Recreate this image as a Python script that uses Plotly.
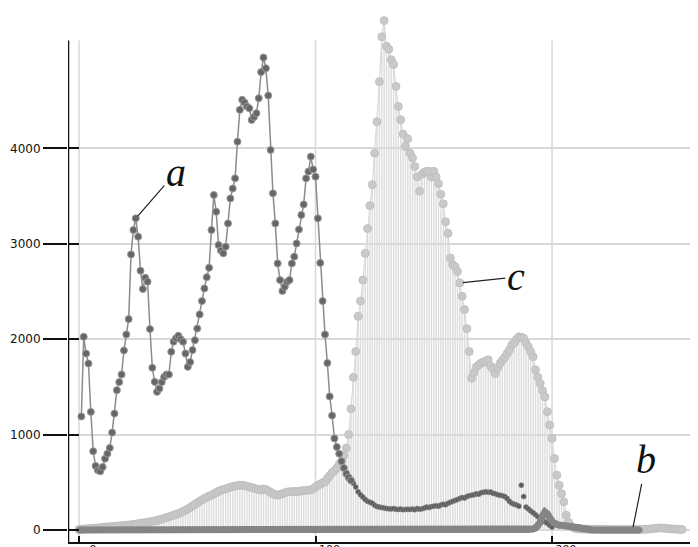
import plotly.graph_objects as go

# ---------------- data ----------------
# series a: starts at x = 1
a_start = 1
a_vals = [
    1190, 2025, 1850, 1745, 1238, 826, 672, 626, 616, 660,
    748, 800, 860, 1021, 1220, 1466, 1550, 1630, 1882, 2050,
    2211, 2889, 3145, 3267, 3075, 2718, 2526, 2644, 2602, 2106,
    1700, 1553, 1448, 1483, 1550, 1605, 1630, 1630, 1868, 1973,
    2010, 2036, 2000, 1973, 1850, 1710, 1760, 1886, 1990, 2112,
    2260, 2400, 2532, 2650, 2749, 3145, 3512, 3337, 2987, 2930,
    2900, 2970, 3214, 3476, 3580, 3686, 4071, 4404, 4509, 4480,
    4439, 4421, 4299, 4330, 4369, 4526, 4800, 4953, 4840, 4554,
    3984, 3529, 3214, 2794, 2620, 2505, 2550, 2602, 2620, 2794,
    2865, 3004, 3150, 3302, 3413, 3686, 3757, 3914, 3780, 3704,
    3267, 2800, 2400, 2050, 1750, 1400, 1200, 960, 870, 800,
    720, 650, 590, 550, 520,
    # low tail (x = 116 ..)
    490, 450, 400, 370, 345, 320, 300, 290, 280, 260,
    245, 240, 235, 230, 225, 222, 220, 224, 218, 215,
    220, 212, 216, 218, 215, 220, 212, 225, 218, 222,
    230, 240, 235, 245, 250, 255, 250, 262, 270, 265,
    280, 290, 300, 310, 320, 330, 340, 335, 350, 360,
    365, 370, 380, 375, 390, 395, 400, 395, 398, 385,
    380, 370, 364, 360, 350, 330, 300, 280, 270, 262,
    250, 470, 350, 240, 220, 200, 180, 160, 140, 120,
    100, 85, 70, 50, 30,
]
a_tail_from = 116  # x where the thin low tail begins

# series b: starts at x = 0
b_start = 0
b_vals = [
    0, 0, 0, 0, 0, 0, 0, 0, 0, 0, 0, 0, 0, 0, 0, 0, 0, 0, 0, 0,
    0, 0, 0, 0, 0, 0, 0, 0, 0, 0, 0, 0, 0, 0, 0, 0, 0, 0, 0, 0,
    0, 0, 0, 0, 0, 0, 0, 0, 0, 0, 0, 0, 0, 0, 0, 0, 0, 0, 0, 0,
    0, 0, 0, 0, 0, 0, 0, 0, 0, 0, 0, 0, 0, 0, 0, 0, 0, 0, 0, 0,
    0, 0, 0, 0, 0, 0, 0, 0, 0, 0, 0, 0, 0, 0, 0, 0, 0, 0, 0, 0,
    0, 0, 0, 0, 0, 0, 0, 0, 0, 0, 0, 0, 0, 0, 0, 0, 0, 0, 0, 0,
    0, 0, 0, 0, 0, 0, 0, 0, 0, 0, 0, 0, 0, 0, 0, 0, 0, 0, 0, 0,
    0, 0, 0, 0, 0, 0, 0, 0, 0, 0, 0, 0, 0, 0, 0, 0, 0, 0, 0, 0,
    0, 0, 0, 0, 0, 0, 0, 0, 0, 0, 0, 0, 0, 0, 0, 0, 0, 0, 0, 0,
    0, 0, 0, 0, 0, 0, 0, 0, 0, 0, 0, 5, 10, 20, 40, 80, 150, 190, 170, 120,
    90, 70, 55, 50, 50, 45, 45, 40, 40, 35, 30, 30, 25, 20, 15, 10, 5, 0, 0, 0,
    0, 0, 0, 0, 0, 0, 0, 0, 0, 0, 0, 0, 0, 0, 0, 0, 0, 0,
]

# series c: starts at x = 0
c_start = 0
c_vals = [
    5, 8, 10, 12, 14, 16, 18, 20, 22, 25,
    27, 30, 32, 34, 36, 38, 40, 43, 45, 48,
    50, 52, 55, 58, 62, 66, 70, 74, 78, 82,
    86, 90, 95, 100, 108, 115, 122, 130, 138, 146,
    155, 163, 172, 182, 195, 208, 220, 236, 252, 268,
    284, 300, 315, 330, 342, 355, 365, 378, 392, 405,
    418, 425, 432, 440, 448, 455, 460, 466, 470, 468,
    465, 458, 450, 445, 438, 430, 425, 420, 430, 425,
    410, 395, 380, 370, 365, 372, 380, 390, 398, 400,
    402, 405, 400, 405, 410, 412, 415, 418, 420, 432,
    450, 470, 480, 495, 505, 540, 570, 600, 620, 650,
    690, 720, 780, 860, 1000, 1270, 1600, 1870, 2240, 2400,
    2620, 2900, 3160, 3400, 3620, 3950, 4280, 4700, 5170, 5340,
    5070, 5040, 4930, 4880, 4650, 4440, 4300, 4150, 4020, 4100,
    3950, 3900, 3810, 3700, 3550, 3730, 3750, 3760, 3760, 3700,
    3760, 3700, 3630, 3520, 3420, 3230, 3110, 2850, 2780, 2760,
    2710, 2590, 2450, 2310, 2110, 1870, 1590, 1650, 1710, 1730,
    1750, 1760, 1770, 1785, 1720, 1690, 1640, 1700, 1745, 1780,
    1810, 1850, 1890, 1940, 1960, 2000, 2025, 2020, 2010, 1960,
    1920, 1870, 1815, 1680, 1600, 1535, 1460, 1395, 1240, 1100,
    960, 750, 575, 470, 380, 295, 155, 80, 40, 25,
    15, 12, 10, 10, 9, 9, 8, 8, 8, 7,
    7, 7, 6, 6, 6, 6, 5, 5, 5, 5,
    5, 5, 5, 5, 5, 5, 6, 6, 6, 7,
    8, 10, 12, 15, 18, 20, 22, 20, 18, 15,
    12, 10, 10, 8, 6, 5,
]

x_ticks = [0, 100, 200]
y_ticks = [0, 1000, 2000, 3000, 4000]

# ---------------- figure ----------------
a_x = list(range(a_start, a_start + len(a_vals)))
b_x = list(range(b_start, b_start + len(b_vals)))
c_x = list(range(c_start, c_start + len(c_vals)))

a_main_x = [x for x in a_x if x < a_tail_from]
a_main_y = [v for x, v in zip(a_x, a_vals) if x < a_tail_from]
a_tail_x = [x for x in a_x if x >= a_tail_from - 1]
a_tail_y = [v for x, v in zip(a_x, a_vals) if x >= a_tail_from - 1]

yr = [-126, 5430]      # full value range shown
frame_top = 5131       # where the axis line and vertical grid stop
xr = [-4.65, 261.7]

fig = go.Figure()

fig.add_trace(go.Scatter(
    x=c_x, y=c_vals, mode="lines+markers",
    line=dict(color="#d6d6d6", width=1),
    marker=dict(size=8, color="#c9c9c9", line=dict(color="#bdbdbd", width=0.8)),
    error_y=dict(type="data", symmetric=False, array=[0] * len(c_vals),
                 arrayminus=c_vals, thickness=1.4, width=0, color="#dcdcdc"),
    showlegend=False, hoverinfo="skip"))

fig.add_trace(go.Scatter(
    x=a_tail_x, y=a_tail_y, mode="markers",
    marker=dict(size=5, color="#5c5c5c", line=dict(color="#8a8a8a", width=0.6)),
    showlegend=False, hoverinfo="skip"))

fig.add_trace(go.Scatter(
    x=a_main_x, y=a_main_y, mode="lines+markers",
    line=dict(color="#8c8c8c", width=1.5),
    marker=dict(size=7, color="#666666", line=dict(color="#9a9a9a", width=1)),
    showlegend=False, hoverinfo="skip"))

fig.add_trace(go.Scatter(
    x=b_x, y=b_vals, mode="lines+markers", yaxis="y2",
    line=dict(color="#858585", width=7),
    marker=dict(size=6, color="#858585"),
    showlegend=False, hoverinfo="skip"))

tickfont = dict(family="DejaVu Sans", size=12, color="#111111")

# the page body adds an 8 px offset, so the figure is 8 px smaller than the window
fig.update_layout(
    width=690, height=539,
    margin=dict(l=60, r=0, t=4, b=5),
    paper_bgcolor="white", plot_bgcolor="white",
    xaxis=dict(range=xr, tickvals=x_ticks, showgrid=False, automargin=False,
               zeroline=False,
               showline=True, linecolor="#111111", linewidth=2,
               ticks="inside", ticklen=6, tickwidth=1.5, tickcolor="#111111",
               tickfont=dict(family="DejaVu Sans", size=11, color="#111111"),
               ticklabelshift=14, ticklabelstandoff=-4),
    yaxis=dict(range=yr, tickvals=y_ticks, showgrid=True, automargin=False,
               gridcolor="#d8d8d8", gridwidth=1.5, zeroline=False,
               showline=False,
               ticks="outside", ticklen=24, tickwidth=2, tickcolor="#111111",
               tickfont=tickfont),
    yaxis2=dict(range=yr, tickvals=y_ticks, overlaying="y", side="left",
                automargin=False,
                showgrid=False, zeroline=False, showline=False,
                ticks="inside", ticklen=11, tickwidth=2, tickcolor="#111111",
                showticklabels=False),
)

# vertical grid lines and the y axis line, stopping below the top of the data
for xv in x_ticks:
    fig.add_shape(type="line", xref="x", yref="y", x0=xv, x1=xv,
                  y0=yr[0], y1=frame_top, layer="below",
                  line=dict(color="#d8d8d8", width=1.5))
fig.add_shape(type="line", xref="x", yref="y", x0=xr[0], x1=xr[0],
              y0=yr[0], y1=frame_top, layer="above",
              line=dict(color="#111111", width=2.5))

lab_font = dict(family="Liberation Serif", size=40, color="#111111")


def label(text, series_x, series_y, at_x, ax, ay):
    i = series_x.index(at_x)
    fig.add_annotation(x=series_x[i], y=series_y[i], text="<i>%s</i>" % text,
                       showarrow=True, arrowhead=0, arrowwidth=1.2,
                       arrowcolor="#222222", ax=ax, ay=ay, standoff=3,
                       font=lab_font)


label("a", a_x, a_vals, 24, 40, -46)
label("c", c_x, c_vals, 161, 56, -6)
label("b", b_x, b_vals, 234, 14, -70)

fig.write_html("out.html")
